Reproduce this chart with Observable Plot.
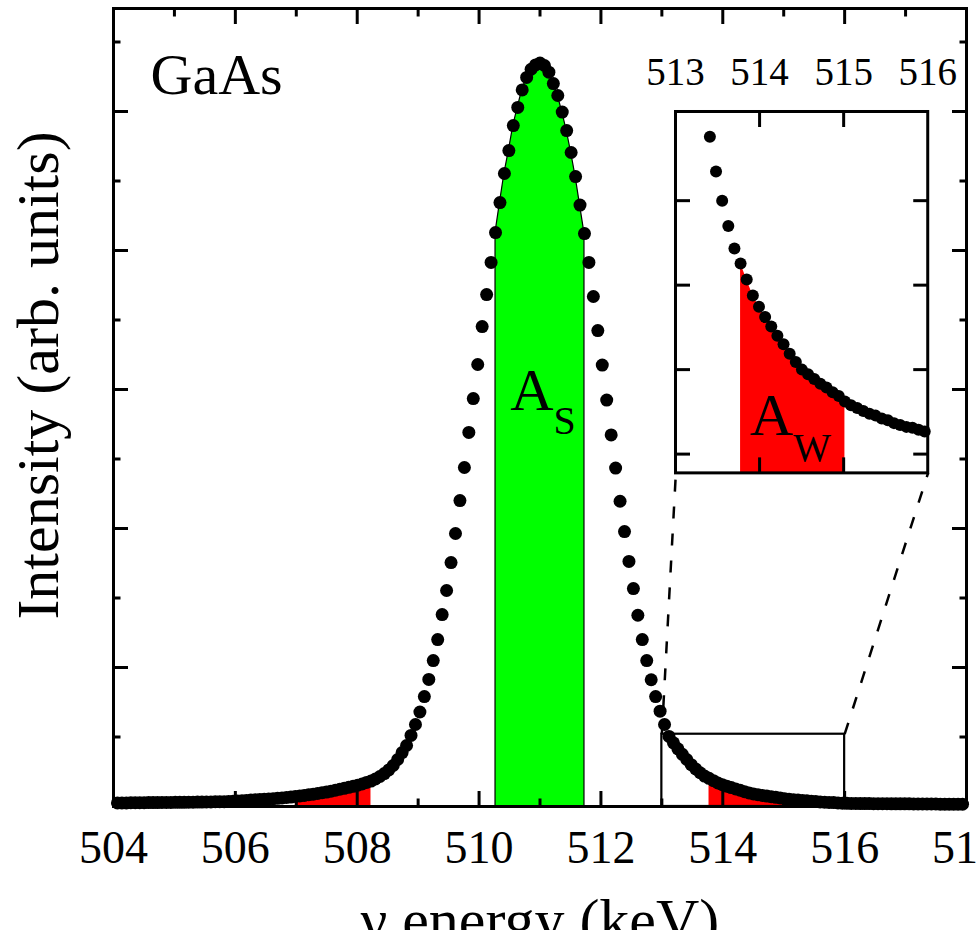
<!DOCTYPE html>
<html><head><meta charset="utf-8">
<script src="https://cdn.jsdelivr.net/npm/d3@7"></script>
<script src="https://cdn.jsdelivr.net/npm/@observablehq/plot@0.6"></script>
<style>
body{margin:0;background:#fff;}
#wrap{position:relative;width:976px;height:930px;overflow:hidden;background:#fff;}
#wrap svg{display:block;}
</style></head><body><div id="wrap"></div>
<script>
// ---- data ----
// channel energies: 511 keV +/- k channels of 0.073 keV, k = -95..95
const channelWidth = 0.073;
const peakEnergy = 511;
const channels = d3.range(-95, 96);
// intensity, arbitrary units (major tick = 1)
const leftTail = [
  0.026,0.026,0.026,0.027,0.027,0.027,0.027,0.028,0.028,0.028,
  0.029,0.029,0.029,0.030,0.030,0.030,0.031,0.031,0.032,0.032,
  0.033,0.033,0.034,0.034,0.035,
  0.036,0.038,0.040,0.042,0.044,0.046,0.048,0.050,0.052,0.054,
  0.056,0.059,0.062,0.065,0.068,0.072,0.076,0.080,0.085,0.089,
  0.094,0.099,0.104,0.110,0.117,0.124,0.131,0.138,0.145,0.153
];
const peak = [
  0.162,0.173,0.183,0.198,0.216,0.237,0.263,0.295,0.338,0.388,
  0.439,0.511,0.590,0.680,0.791,0.914,1.050,1.201,1.381,1.554,
  1.755,1.964,2.201,2.439,2.691,2.935,3.180,3.453,3.683,3.914,
  4.129,4.345,4.554,4.719,4.899,5.029,5.155,5.245,5.304,5.335,
  5.349,
  5.331,5.283,5.201,5.115,4.996,4.863,4.705,4.532,4.327,4.122,
  3.914,3.669,3.424,3.176,2.924,2.673,2.435,2.196,1.978,1.763,
  1.568,1.376,1.201,1.050,0.912,0.791,0.686,0.590,0.504,0.458,
  0.415,0.375,0.338,0.301,0.270,0.243,0.219,0.203,0.186,0.169
];
const rightTail = [
  0.157,0.146,0.136,0.126,0.117,0.107,0.098,0.090,0.085,0.080,
  0.075,0.071,0.066,0.062,0.056,0.052,0.049,0.046,0.043,0.041,
  0.038,0.036,0.033,0.031,0.029,0.028,0.026,0.024,0.023,0.022,
  0.022,0.021,0.021,0.021,0.020,0.020,0.020,0.020,0.019,0.019,
  0.019,0.019,0.019,0.018,0.018,0.018,0.018,0.018,0.018,0.017,
  0.017,0.017,0.017,0.017,0.017
];
const xMajor = [504,506,508,510,512,514,516,518];
const xMinor = [505,507,509,511,513,515,517];
const yMajor = [0,1,2,3,4,5];
const yMinor = [0.5,1.5,2.5,3.5,4.5,5.5];
const insetXLabels = [513,514,515,516];
const insetXTicks = [514,515];
const insetYTicks = [0,0.09,0.18,0.27];
const sWindow = 0.75;          // |E-511| for A_S
const wWindow = [2.75, 4.02];  // |E-511| for A_W
const zoomBox = {x1:513, x2:516, y1:0, y2:0.52};

const intensity = [...leftTail, ...peak, ...rightTail];
const data = channels.map((k,i) => ({E: +(peakEnergy + k*channelWidth).toFixed(3), I: intensity[i]}));
const green = data.filter(d => Math.abs(d.E-peakEnergy) <= sWindow);
const redL = data.filter(d => d.E < peakEnergy && Math.abs(d.E-peakEnergy) >= wWindow[0] && Math.abs(d.E-peakEnergy) <= wWindow[1]);
const redR = data.filter(d => d.E > peakEnergy && Math.abs(d.E-peakEnergy) >= wWindow[0] && Math.abs(d.E-peakEnergy) <= wWindow[1]);

// ---- layout ----
const W = 976, H = 930, mL = 113, mR = 10, mT = 8, mB = 124;
const xDomain = [504, 518], yDomain = [0, 5.741];
const insetPos = {x1: 513.23, x2: 517.37, y1: 2.40, y2: 5.00}; // inset frame in main data units
const insetYDomain = [-0.02, 0.365];
const font = "Liberation Serif";

const main = Plot.plot({
  width: W, height: H, marginLeft: mL, marginRight: mR, marginTop: mT, marginBottom: mB,
  x: {domain: xDomain, axis: null},
  y: {domain: yDomain, axis: null},
  style: {fontFamily: font, background: "white", color: "black"},
  marks: [
    Plot.areaY(green, {x: "E", y: "I", fill: "#00ff00", stroke: "black", strokeWidth: 1.2}),
    Plot.areaY(redL, {x: "E", y: "I", fill: "#ff0000"}),
    Plot.areaY(redR, {x: "E", y: "I", fill: "#ff0000"}),
    Plot.axisX(xMajor, {anchor: "bottom", tickSize: -15, strokeWidth: 3, fill: "none"}),
    Plot.axisX(xMinor, {anchor: "bottom", tickSize: -7.5, strokeWidth: 3, fill: "none"}),
    Plot.axisX(xMajor, {anchor: "top", tickSize: -15, strokeWidth: 3, fill: "none"}),
    Plot.axisX(xMinor, {anchor: "top", tickSize: -7.5, strokeWidth: 3, fill: "none"}),
    Plot.axisY(yMajor, {anchor: "left", tickSize: -15, strokeWidth: 3, fill: "none"}),
    Plot.axisY(yMinor, {anchor: "left", tickSize: -7.5, strokeWidth: 3, fill: "none"}),
    Plot.axisY(yMajor, {anchor: "right", tickSize: -15, strokeWidth: 3, fill: "none"}),
    Plot.axisY(yMinor, {anchor: "right", tickSize: -7.5, strokeWidth: 3, fill: "none"}),
    Plot.rect([zoomBox], {x1: "x1", x2: "x2", y1: "y1", y2: "y2", fill: "none", stroke: "black", strokeWidth: 2.2}),
    Plot.link([
      {x1: zoomBox.x1, y1: zoomBox.y2, x2: insetPos.x1, y2: insetPos.y1},
      {x1: zoomBox.x2, y1: zoomBox.y2, x2: insetPos.x2, y2: insetPos.y1}
    ], {x1: "x1", y1: "y1", x2: "x2", y2: "y2", stroke: "black", strokeWidth: 2.5, strokeDasharray: "12,15"}),
    Plot.dot(data, {x: "E", y: "I", r: 6.5, fill: "black", stroke: "none"}),
    Plot.frame({strokeWidth: 3}),
    Plot.text(xMajor, {x: d => d, text: d => String(d), frameAnchor: "bottom", dy: 56, lineAnchor: "bottom", fontSize: 46}),
    Plot.text(["γ energy (keV)"], {text: d => d, frameAnchor: "bottom", dy: 133, lineAnchor: "bottom", textAnchor: "middle", fontSize: 60}),
    Plot.text(["Intensity (arb. units)"], {text: d => d, frameAnchor: "left", dx: -56, dy: -32, rotate: -90, lineAnchor: "bottom", textAnchor: "middle", fontSize: 60}),
    Plot.text(["GaAs"], {text: d => d, frameAnchor: "top-left", dx: 37, dy: 85, lineAnchor: "bottom", textAnchor: "start", fontSize: 58}),
    Plot.text(["A"], {text: d => d, x: peakEnergy, y: 2.85, dx: 13.5, textAnchor: "end", lineAnchor: "bottom", fontSize: 60}),
    Plot.text(["S"], {text: d => d, x: peakEnergy, y: 2.85, dx: 13.5, dy: 24, textAnchor: "start", lineAnchor: "bottom", fontSize: 40})
  ]
});

const wrap = document.getElementById("wrap");
wrap.appendChild(main);

// inset placement from main scales
const sx = d3.scaleLinear(xDomain, [mL, W - mR]);
const sy = d3.scaleLinear(yDomain, [H - mB, mT]);
const iL = sx(insetPos.x1), iR = sx(insetPos.x2), iT = sy(insetPos.y2), iB = sy(insetPos.y1);
const imL = 40, imR = 40, imT = 60, imB = 4;

const insetDots = data.filter(d => d.E >= 513 && d.E <= 516 && d.I <= insetYDomain[1]);
const inset = Plot.plot({
  width: iR - iL + imL + imR, height: iB - iT + imT + imB,
  marginLeft: imL, marginRight: imR, marginTop: imT, marginBottom: imB,
  x: {domain: [513, 516], axis: null},
  y: {domain: insetYDomain, axis: null},
  style: {fontFamily: font, background: "transparent", color: "black", overflow: "visible"},
  marks: [
    Plot.frame({fill: "white", stroke: "none"}),
    Plot.areaY(redR, {x: "E", y1: insetYDomain[0], y2: "I", fill: "#ff0000"}),
    Plot.axisX(insetXTicks, {anchor: "top", tickSize: -15, strokeWidth: 3, fill: "none"}),
    Plot.axisX(insetXTicks, {anchor: "bottom", tickSize: -15, strokeWidth: 3, fill: "none"}),
    Plot.axisY(insetYTicks, {anchor: "left", tickSize: -15, strokeWidth: 3, fill: "none"}),
    Plot.axisY(insetYTicks, {anchor: "right", tickSize: -15, strokeWidth: 3, fill: "none"}),
    Plot.dot(insetDots, {x: "E", y: "I", r: 6, fill: "black", stroke: "none"}),
    Plot.frame({strokeWidth: 3}),
    Plot.text(insetXLabels, {x: d => d, text: d => String(d), frameAnchor: "top", dy: -26, lineAnchor: "bottom", fontSize: 39}),
    Plot.text(["A"], {text: d => d, x: 514.4, y: 0.02, textAnchor: "end", lineAnchor: "bottom", fontSize: 60}),
    Plot.text(["W"], {text: d => d, x: 514.4, y: 0.02, dy: 26, textAnchor: "start", lineAnchor: "bottom", fontSize: 40})
  ]
});
inset.style.position = "absolute";
inset.style.left = (iL - imL) + "px";
inset.style.top = (iT - imT) + "px";
wrap.appendChild(inset);
</script>
</body></html>
